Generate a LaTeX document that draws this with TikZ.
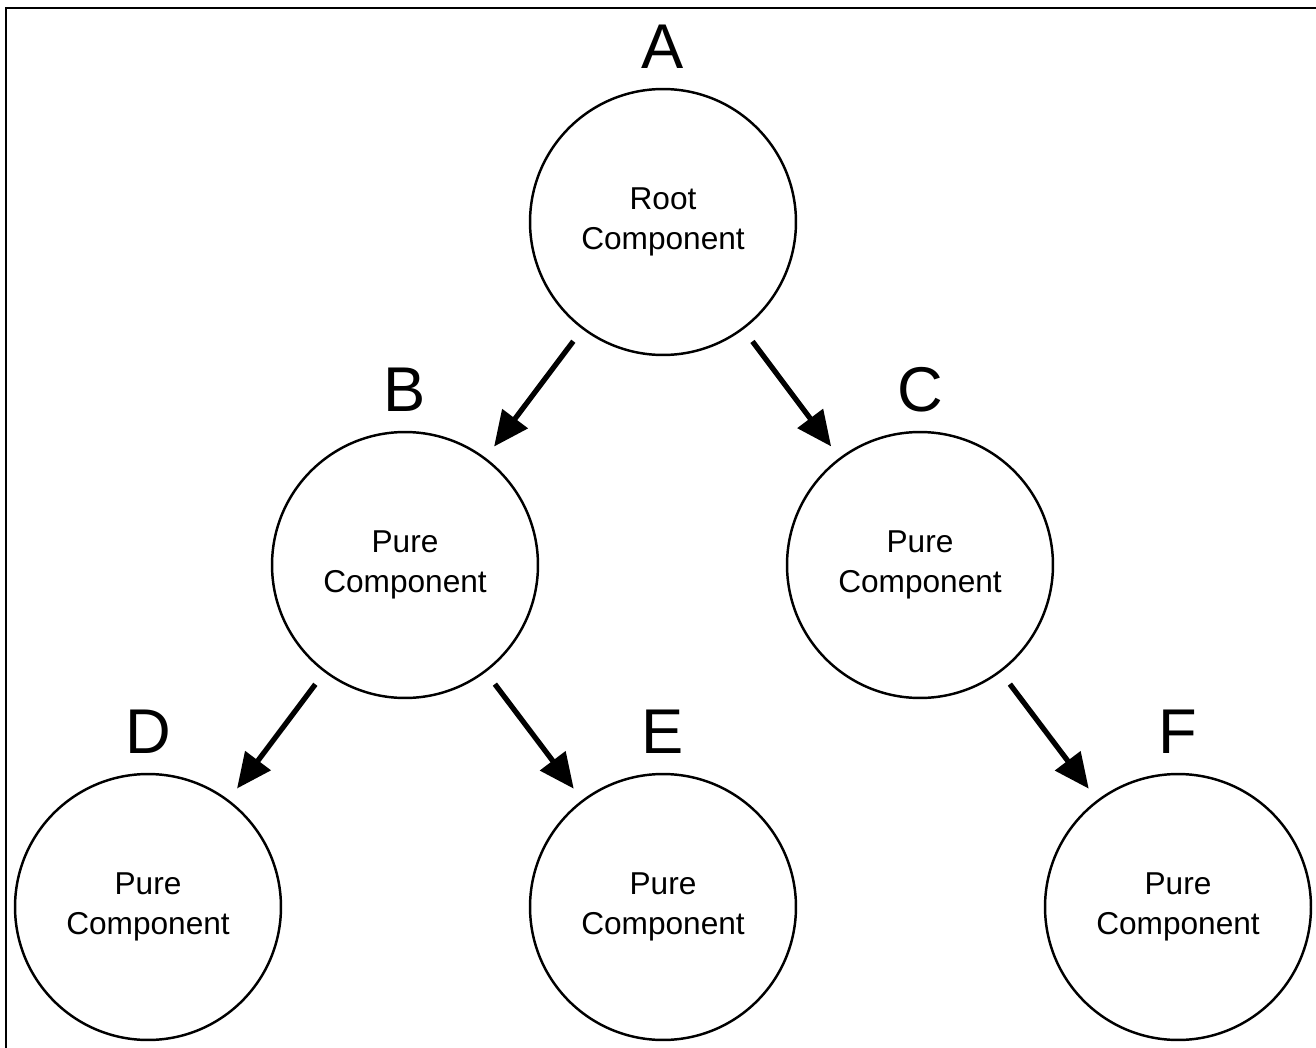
\documentclass[tikz,border=0pt]{standalone}
\usepackage{fontspec}
\setmainfont{Liberation Sans}
\usetikzlibrary{arrows.meta}

\tikzset{
    comp/.style={draw, circle, line width=1.4pt, minimum size=5.32cm, inner sep=0pt,
        align=center, font=\fontsize{18}{22.5}\selectfont},
    lbl/.style={anchor=base, inner sep=0pt, font=\fontsize{36}{40}\selectfont},
    link/.style={line width=3pt, -{Triangle[length=0.7cm, width=0.62cm]},
        shorten <=0.3cm, shorten >=0.28cm}
}

\begin{document}
\begin{tikzpicture}[x=0.02cm, y=-0.02cm]
    \useasboundingbox (0,0) rectangle (1316,1048);
    % Frame
    \draw[line width=1.7pt] (6,1048) -- (6,8) -- (1316,8);

    % Components
    \node[comp] (a) at (663,222) {Root\\Component};
    \node[comp] (b) at (405,565) {Pure\\Component};
    \node[comp] (c) at (920,565) {Pure\\Component};
    \node[comp] (d) at (148,907) {Pure\\Component};
    \node[comp] (e) at (663,907) {Pure\\Component};
    \node[comp] (f) at (1178,907) {Pure\\Component};

    % Letters
    \node[lbl] (la) at ([yshift=0.38cm]a.north) {A};
    \node[lbl] (lb) at ([yshift=0.38cm]b.north) {B};
    \node[lbl] (lc) at ([yshift=0.38cm]c.north) {C};
    \node[lbl] (ld) at ([yshift=0.38cm]d.north) {D};
    \node[lbl] (le) at ([yshift=0.38cm]e.north) {E};
    \node[lbl] (lf) at ([yshift=0.38cm]f.north) {F};

    % Links
    \draw[link] (a) -- (b);
    \draw[link] (a) -- (c);
    \draw[link] (b) -- (d);
    \draw[link] (b) -- (e);
    \draw[link] (c) -- (f);
\end{tikzpicture}
\end{document}
